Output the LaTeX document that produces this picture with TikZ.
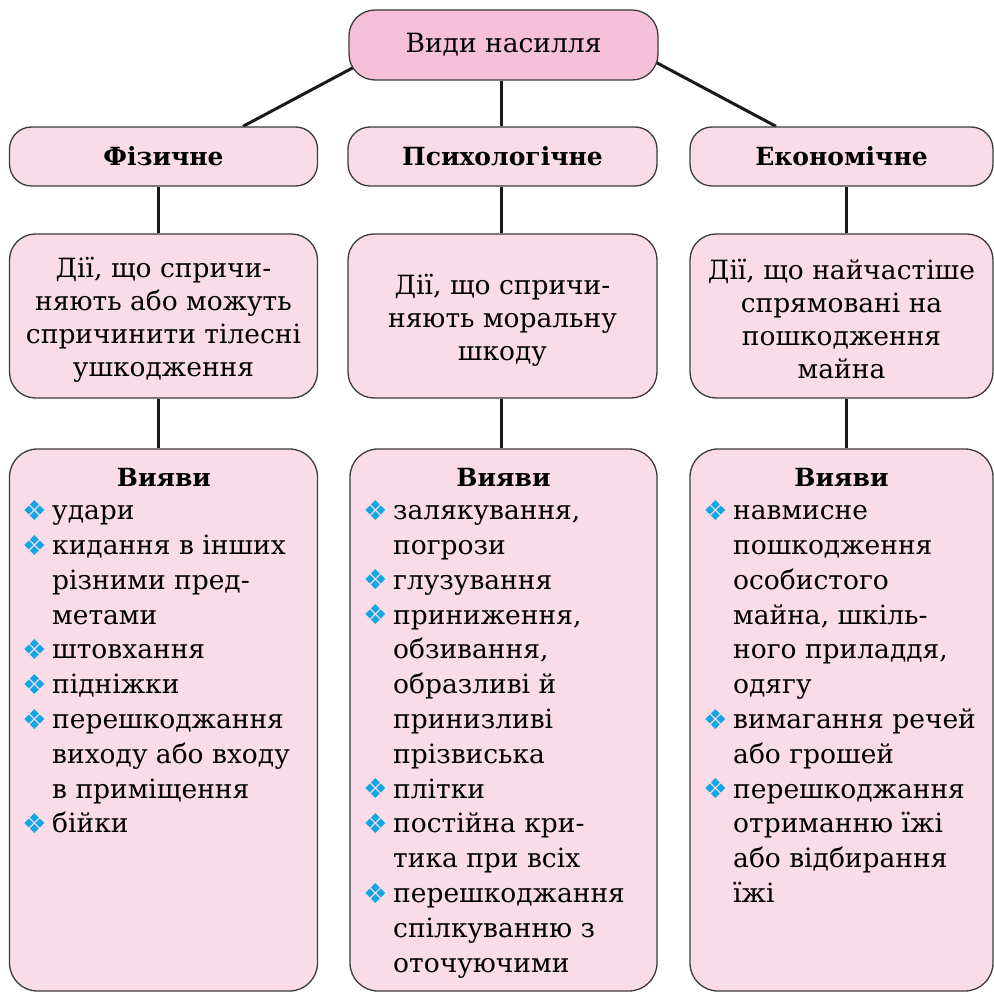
\documentclass[tikz,border=0pt]{standalone}
\usepackage{fontspec}
\setmainfont{DejaVu Serif}
\newfontfamily\symfont{DejaVu Sans}
\usetikzlibrary{calc,backgrounds}
\definecolor{topfill}{HTML}{F6C0D9}
\definecolor{boxfill}{HTML}{F9DCE7}
\definecolor{edge}{HTML}{3C3C3C}
\definecolor{bulc}{HTML}{12A6E4}
\newcommand{\bul}{\makebox[30pt][l]{\raisebox{-0.5pt}{\fontsize{27.5}{30}\symfont\color{bulc}❖}}}
\newcommand{\ind}{\hspace*{30pt}}
\begin{document}
\begin{tikzpicture}[x=1pt,y=-1pt,
  box/.style={draw=edge, line width=1.3pt, fill=boxfill, rounded corners=22pt, inner sep=0pt},
  conn/.style={line width=3pt, black!90},
  txt/.style={font=\fontsize{26.5}{33}\selectfont, align=center, inner sep=0pt},
  head/.style={font=\fontsize{25}{30}\selectfont\bfseries},
  list/.style={font=\fontsize{26.5}{34.8}\selectfont, align=left, anchor=north west, inner sep=0pt}]
\useasboundingbox (0,0) rectangle (994,992);
% top
\node[box, fill=topfill, rounded corners=26pt, minimum width=309pt, minimum height=70pt, font=\fontsize{26.5}{30}\selectfont] (top) at (503.5,45) {Види насилля};
% level 2
\node[box, head, minimum width=308pt, minimum height=59pt] (fiz) at (163.5,156.5) {Фізичне};
\node[box, head, minimum width=309pt, minimum height=59pt] (psy) at (502.5,156.5) {Психологічне};
\node[box, head, minimum width=303pt, minimum height=59pt] (eco) at (841.5,156.5) {Економічне};
% level 3
\node[box, rounded corners=26pt, minimum width=308pt, minimum height=164pt] (fizd) at (163.5,316) {};
\node[box, rounded corners=26pt, minimum width=309pt, minimum height=164pt] (psyd) at (502.5,316) {};
\node[box, rounded corners=26pt, minimum width=303pt, minimum height=164pt] (ecod) at (841.5,316) {};
\node[txt] (fizdt) at ($(fizd)+(0,4)$) {Дії, що спричи-\\няють або можуть\\спричинити тілесні\\ушкодження};
\node[txt] (psydt) at ($(psyd)+(0,4)$) {Дії, що спричи-\\няють моральну\\шкоду};
\node[txt] (ecodt) at ($(ecod)+(0,3)$) {Дії, що найчастіше\\спрямовані на\\пошкодження\\майна};
% level 4
\node[box, rounded corners=28pt, minimum width=308pt, minimum height=542pt] (fizv) at (163.5,720) {};
\node[box, rounded corners=28pt, minimum width=307pt, minimum height=542pt] (psyv) at (503.5,720) {};
\node[box, rounded corners=28pt, minimum width=303pt, minimum height=542pt] (ecov) at (841.5,720) {};
\node[head, anchor=base] (fizh) at (164,486) {Вияви};
\node[head, anchor=base] (psyh) at (503.5,486) {Вияви};
\node[head, anchor=base] (ecoh) at (841.5,486) {Вияви};
\node[list] (fizl) at (22,500) {\bul удари\\
\bul кидання в інших\\
\ind різними пред-\\
\ind метами\\
\bul штовхання\\
\bul підніжки\\
\bul перешкоджання\\
\ind виходу або входу\\
\ind в приміщення\\
\bul бійки};
\node[list] (psyl) at (363,500) {\bul залякування,\\
\ind погрози\\
\bul глузування\\
\bul приниження,\\
\ind обзивання,\\
\ind образливі й\\
\ind принизливі\\
\ind прізвиська\\
\bul плітки\\
\bul постійна кри-\\
\ind тика при всіх\\
\bul перешкоджання\\
\ind спілкуванню з\\
\ind оточуючими};
\node[list] (ecol) at (703,500) {\bul навмисне\\
\ind пошкодження\\
\ind особистого\\
\ind майна, шкіль-\\
\ind ного приладдя,\\
\ind одягу\\
\bul вимагання речей\\
\ind або грошей\\
\bul перешкоджання\\
\ind отриманню їжі\\
\ind або відбирання\\
\ind їжі};
% connectors
\begin{pgfonlayer}{background}
\coordinate (tl) at (420,32);
\coordinate (tr) at (600,32.5);
\draw[conn] (tl) -- ($(fiz.north)+(79.5,0)$);
\draw[conn] (tr) -- ($(eco.north)+(-65.5,0)$);
\draw[conn] ($(psy.north)+(-1.5,0)$) -- ($(top.south)+(-2.5,0)$);
\draw[conn] ($(fiz.south)+(-5.5,0)$) -- ($(fizd.north)+(-5.5,0)$);
\draw[conn] ($(psy.south)+(-1.5,0)$) -- ($(psyd.north)+(-1.5,0)$);
\draw[conn] ($(eco.south)+(4.5,0)$) -- ($(ecod.north)+(4.5,0)$);
\draw[conn] ($(fizd.south)+(-5.5,0)$) -- ($(fizv.north)+(-5.5,0)$);
\draw[conn] ($(psyd.south)+(-1.5,0)$) -- ($(psyv.north)+(-2.5,0)$);
\draw[conn] ($(ecod.south)+(4.5,0)$) -- ($(ecov.north)+(4.5,0)$);
\end{pgfonlayer}
\end{tikzpicture}
\end{document}
